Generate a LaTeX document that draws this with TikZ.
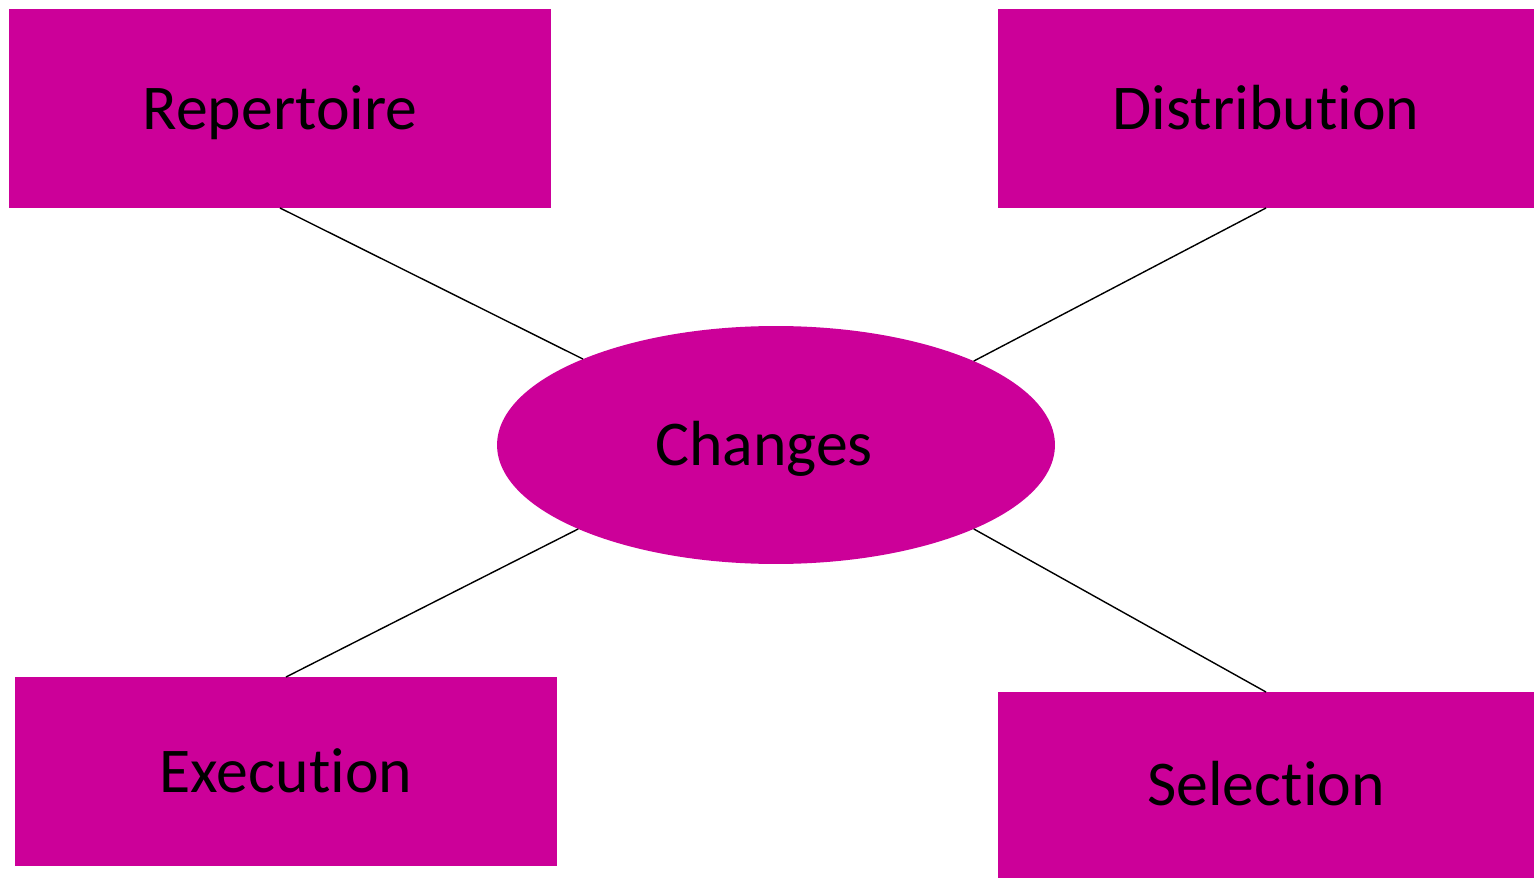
\documentclass[tikz,border=0pt]{standalone}
\usepackage{fontspec}
\setmainfont[Ligatures={NoCommon,NoContextual}]{Carlito}
\usetikzlibrary{shapes.geometric}
\definecolor{mag}{RGB}{204,0,153}
\begin{document}
\begin{tikzpicture}[x=0.02cm,y=-0.02cm,
  box/.style={rectangle,fill=mag,draw=none,inner sep=0pt,outer sep=0pt,font=\fontsize{36.3}{40}\selectfont,text=black,text height=23.5pt,text depth=0pt},
  oval/.style={ellipse,fill=mag,draw=none,inner sep=0pt,outer sep=0pt,minimum width=11.16cm,minimum height=4.76cm,font=\fontsize{36.3}{40}\selectfont,text=black,text height=23.5pt,text depth=0pt},
  link/.style={draw=black,line width=0.8pt}]
\useasboundingbox (0,0) rectangle (1534,878);
\node[box,minimum width=10.84cm,minimum height=3.98cm] (rep) at (280,108.5) {Repertoire};
\node[box,minimum width=10.72cm,minimum height=3.98cm] (dis) at (1266,108.5) {Distribut\kern0pt ion};
\node[box,minimum width=10.84cm,minimum height=3.78cm] (exe) at (286,771.5) {Execut\kern0pt ion};
\node[box,minimum width=10.72cm,minimum height=3.72cm] (sel) at (1266,785) {Select\kern0pt ion};
\node[oval] (ch) at (776,445) {Changes\hspace*{13.6pt}};
\draw[link] (rep.south) -- (ch.156.66);
\draw[link] (dis.south) -- (ch.23.13);
\draw[link] (exe.north) -- (ch.203.1);
\draw[link] (sel.north) -- (ch.337.1);
\end{tikzpicture}
\end{document}
